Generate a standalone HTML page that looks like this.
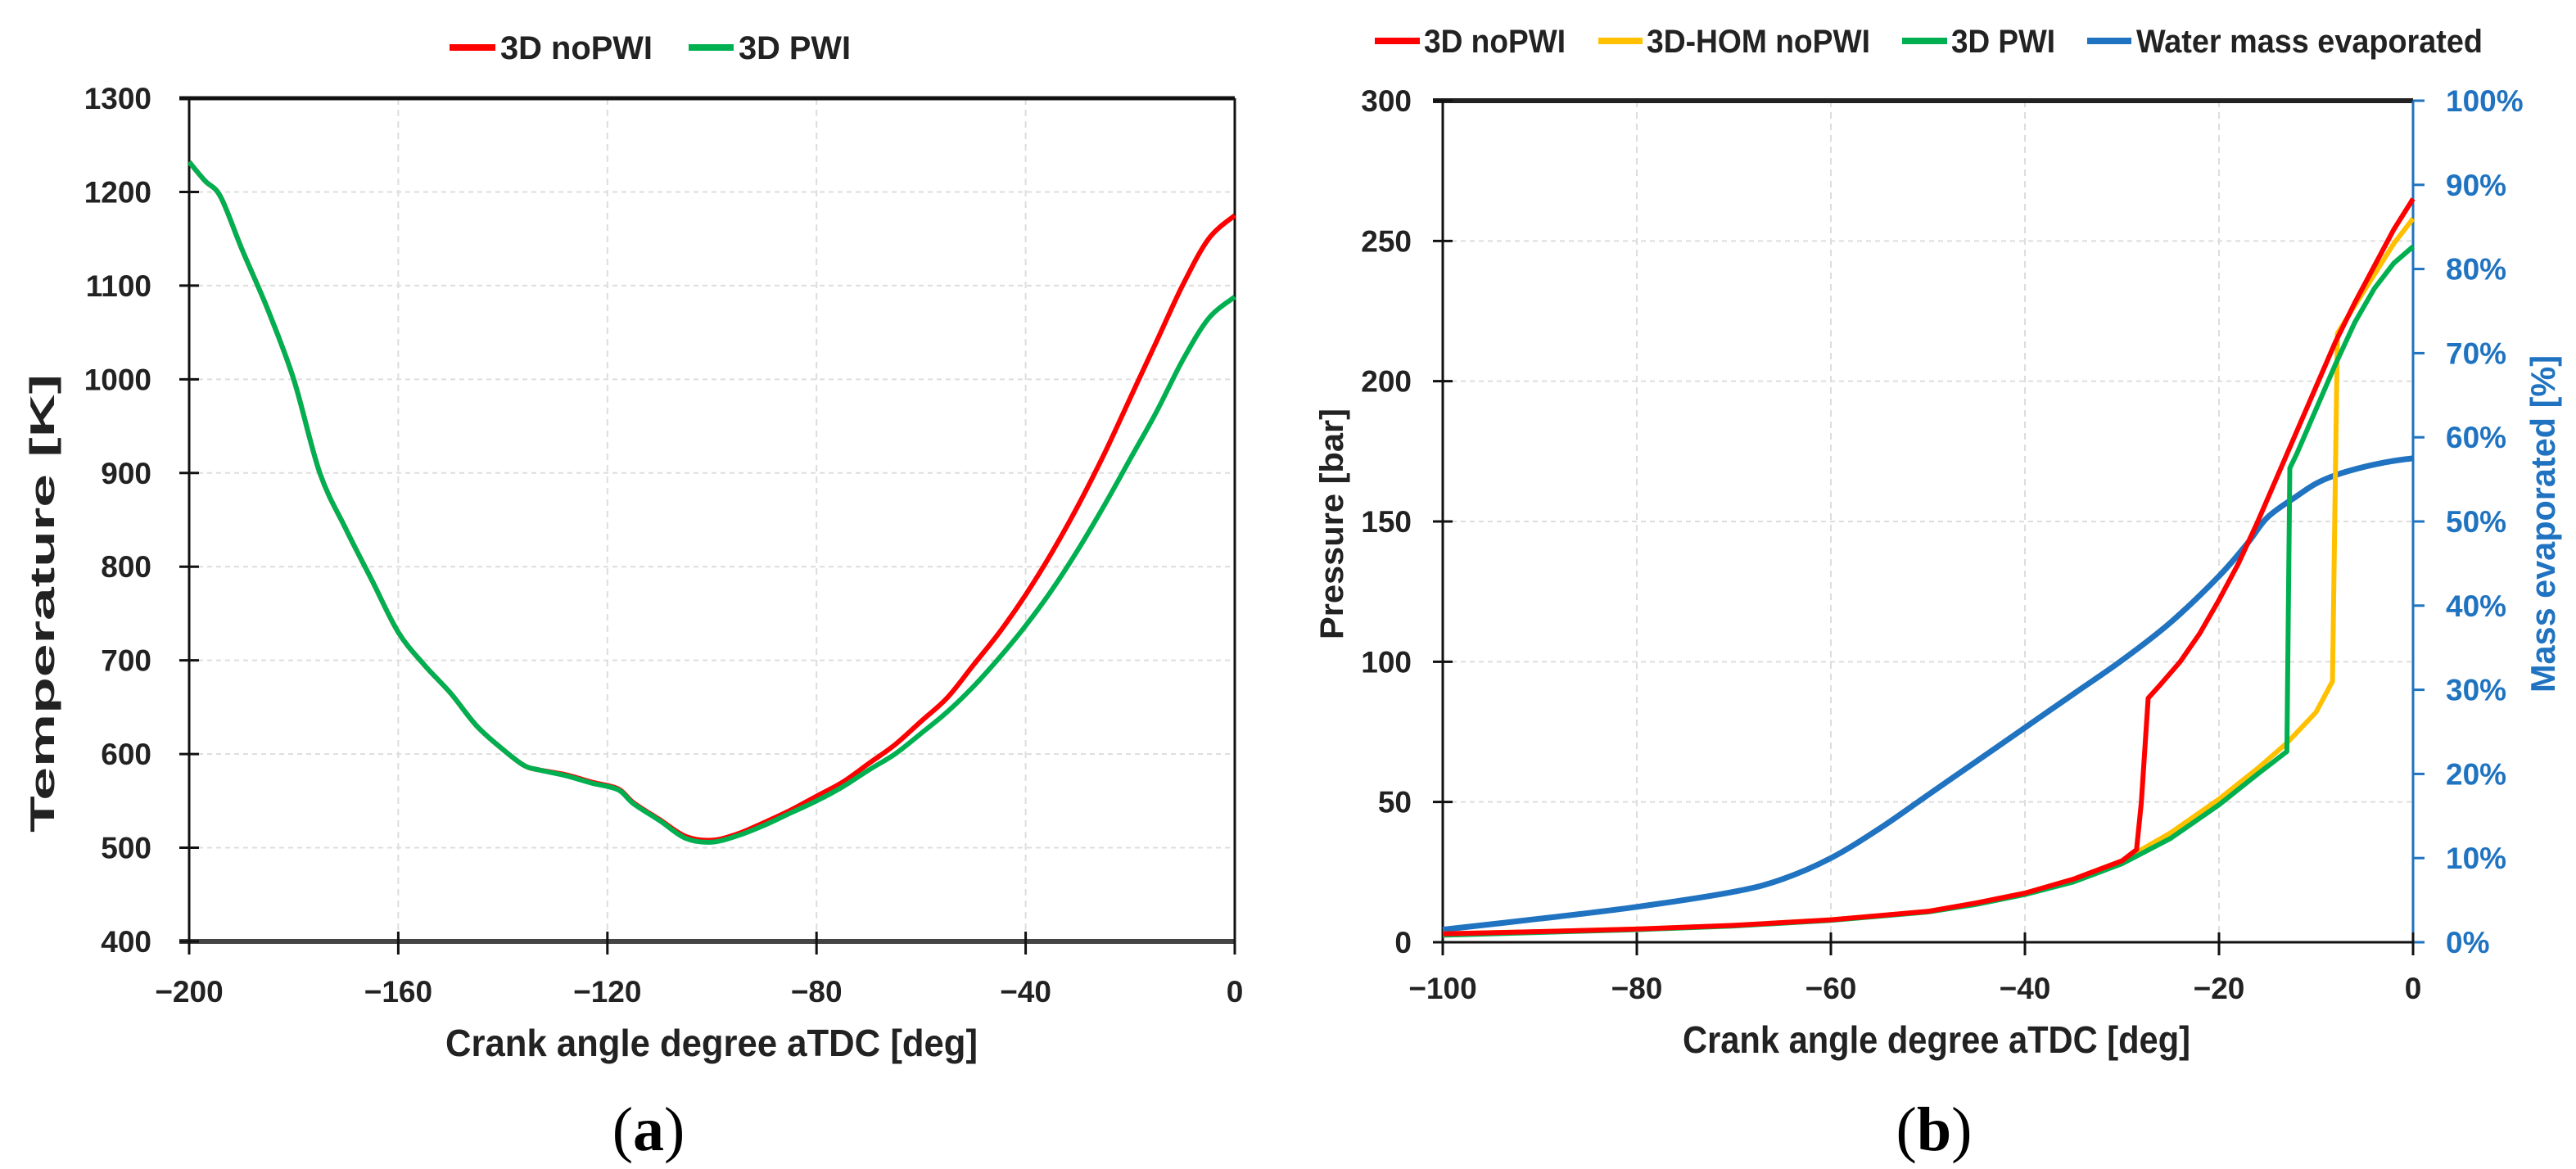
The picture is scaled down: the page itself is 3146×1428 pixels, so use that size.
<!DOCTYPE html>
<html><head><meta charset="utf-8">
<style>
html,body{margin:0;padding:0;background:#fff;}
svg{display:block;font-family:"Liberation Sans",sans-serif;}
</style></head>
<body>
<svg id="fig" width="3146" height="1428" viewBox="0 0 3146 1428"></svg>
<script>
// ---- Chart (a) data ----
const caA = [-200,-197,-194,-190,-185,-180,-175,-170,-165,-160,-155,-150,-145,-140,-136,-133,-128,-123,-118,-115,-110,-105,-100,-95,-90,-85,-80,-75,-70,-65,-60,-55,-50,-45,-40,-35,-30,-25,-20,-15,-10,-5,0];
const tNoPWI = [1232,1212,1195,1140,1075,1000,900,840,785,730,695,665,630,605,588,583,578,570,563,548,530,512,508,515,527,540,555,570,590,610,635,660,695,730,770,815,865,920,980,1040,1100,1150,1175];
const tPWI = [1232,1212,1195,1140,1075,1000,900,840,785,730,695,665,630,605,588,583,577,569,562,547,529,510,506,513,524,537,550,565,583,600,622,645,672,703,737,775,818,865,915,965,1020,1065,1088];
const xTicksA = [-200,-160,-120,-80,-40,0];
const yTicksA = [400,500,600,700,800,900,1000,1100,1200,1300];
// ---- Chart (b) data ----
const caRed = [-100,-90,-80,-70,-60,-50,-45,-40,-35,-30,-28.5,-28,-27.3,-26,-24,-22,-20,-18,-16,-14,-12,-10,-8,-6,-4,-2,0];
const pRed = [3,3.8,4.7,6,8,11,14,17.5,22.5,29,33,50,87,92,100,110,122,135,150,166,182,198,214,228,241,254,265];
const caYel = [-100,-90,-80,-70,-60,-50,-45,-40,-35,-30,-25,-20,-16,-13,-10,-8.3,-7.8,-6,-4,-2,0];
const pYel = [3,3.8,4.7,6,8,11,14,17.5,22.5,29,39,51,62,71,82,93,217,227,238,249,258];
const caGrn = [-100,-90,-80,-70,-60,-50,-45,-40,-35,-30,-25,-20,-16,-13,-12.7,-12,-10,-8,-6,-4,-2,0];
const pGrn = [2.5,3.5,4.5,5.8,7.8,10.8,13.5,17,21.5,28,37,49,60,68,169,174,190,206,221,233,242,248];
const caBlue = [-100,-90,-80,-70,-65,-60,-55,-50,-45,-40,-35,-30,-25,-20,-17,-15,-12,-10,-8,-5,-2,0];
const mBlue = [1.5,2.8,4.2,6,7.5,10,13.5,17.5,21.5,25.5,29.5,33.5,38,43.5,47.5,50.5,53,54.5,55.5,56.5,57.2,57.5];
const xTicksB = [-100,-80,-60,-40,-20,0];
const yTicksB = [0,50,100,150,200,250,300];
const yTicksB2 = [0,10,20,30,40,50,60,70,80,90,100];

const NS="http://www.w3.org/2000/svg";
const svg=document.getElementById('fig');
function mk(tag,attrs,parent){const e=document.createElementNS(NS,tag);for(const k in attrs)e.setAttribute(k,attrs[k]);(parent||svg).appendChild(e);return e;}
function txt(s,attrs,parent){const e=mk('text',attrs,parent);e.textContent=s;return e;}
function pathD(xs,ys,fx,fy){return xs.map((v,i)=>(i?'L':'M')+fx(v).toFixed(1)+','+fy(ys[i]).toFixed(1)).join(' ');}
function smoothD(xs,ys,fx,fy){
  const p=xs.map((v,i)=>[fx(v),fy(ys[i])]);
  let d='M'+p[0][0].toFixed(1)+','+p[0][1].toFixed(1);
  for(let i=0;i<p.length-1;i++){
    const p0=p[Math.max(0,i-1)],p1=p[i],p2=p[i+1],p3=p[Math.min(p.length-1,i+2)];
    const c1=[p1[0]+(p2[0]-p0[0])/6,p1[1]+(p2[1]-p0[1])/6];
    const c2=[p2[0]-(p3[0]-p1[0])/6,p2[1]-(p3[1]-p1[1])/6];
    d+=' C'+c1[0].toFixed(1)+','+c1[1].toFixed(1)+' '+c2[0].toFixed(1)+','+c2[1].toFixed(1)+' '+p2[0].toFixed(1)+','+p2[1].toFixed(1);
  }
  return d;
}

// ---------- Chart A ----------
const A={x0:231,x1:1508,y0:1150,y1:120,xmin:-200,xmax:0,ymin:400,ymax:1300};
const xA=v=>A.x0+(v-A.xmin)/(A.xmax-A.xmin)*(A.x1-A.x0);
const yA=v=>A.y0-(v-A.ymin)/(A.ymax-A.ymin)*(A.y0-A.y1);
const gA=mk('g',{});


for(const t of xTicksA){ if(t!==A.xmin && t!==A.xmax){const l=mk('line',{x1:xA(t),x2:xA(t),y1:A.y1,y2:A.y0,stroke:'#ddd','stroke-width':2,'stroke-dasharray':'8,6'},gA);}}
for(const t of yTicksA){ if(t!==A.ymin && t!==A.ymax){const l=mk('line',{x1:A.x0,x2:A.x1,y1:yA(t),y2:yA(t),stroke:'#ddd','stroke-width':2,'stroke-dasharray':'6,5'},gA);}}
mk('line',{x1:A.x0-12,x2:A.x1,y1:A.y1,y2:A.y1,stroke:'#111','stroke-width':5},gA);
mk('line',{x1:A.x1,x2:A.x1,y1:A.y1,y2:A.y0,stroke:'#111','stroke-width':3},gA);
mk('line',{x1:A.x0,x2:A.x0,y1:A.y1,y2:A.y0,stroke:'#111','stroke-width':3},gA);
mk('line',{x1:A.x0-12,x2:A.x1,y1:A.y0,y2:A.y0,stroke:'#444','stroke-width':6},gA);
let e;
for(const t of yTicksA){mk('line',{x1:A.x0-12,x2:A.x0+12,y1:yA(t),y2:yA(t),stroke:'#111','stroke-width':3},gA);
 e=txt(String(t),{x:A.x0-46,y:yA(t)+13,'text-anchor':'end','font-size':37,'font-weight':'bold',fill:'#222'},gA);}
for(const t of xTicksA){mk('line',{x1:xA(t),x2:xA(t),y1:A.y0-12,y2:A.y0+16,stroke:'#111','stroke-width':3},gA);
 e=txt(t===0?'0':'\u2212'+Math.abs(t),{x:xA(t),y:1224,'text-anchor':'middle','font-size':37,'font-weight':'bold',fill:'#222'},gA);}
const lr=mk('path',{d:smoothD(caA,tNoPWI,xA,yA),fill:'none',stroke:'#ff0000','stroke-width':6,'stroke-linejoin':'round'},gA);

const lg=mk('path',{d:smoothD(caA,tPWI,xA,yA),fill:'none',stroke:'#00b050','stroke-width':6,'stroke-linejoin':'round'},gA);

e=txt('Temperature [K]',{transform:'translate(66,737) rotate(-90)','text-anchor':'middle','font-size':42,'font-weight':'bold',fill:'#222',textLength:560,lengthAdjust:'spacingAndGlyphs'},gA);

e=txt('Crank angle degree aTDC [deg]',{x:869,y:1290,'text-anchor':'middle','font-size':46,'font-weight':'bold',fill:'#222',textLength:650,lengthAdjust:'spacingAndGlyphs'},gA);

mk('line',{x1:549,x2:605,y1:58,y2:58,stroke:'#ff0000','stroke-width':8},gA);
e=txt('3D noPWI',{x:611,y:72,'font-size':40,'font-weight':'bold',fill:'#222',textLength:186,lengthAdjust:'spacingAndGlyphs'},gA);
mk('line',{x1:841,x2:896,y1:58,y2:58,stroke:'#00b050','stroke-width':8},gA);
e=txt('3D PWI',{x:902,y:72,'font-size':40,'font-weight':'bold',fill:'#222',textLength:137,lengthAdjust:'spacingAndGlyphs'},gA);
e=mk('text',{x:792,y:1405,'text-anchor':'middle','font-size':76,'font-family':'Liberation Serif, serif',fill:'#000'});
e.innerHTML='(<tspan font-weight="bold">a</tspan>)';


// ---------- Chart B ----------
const B={x0:1762,x1:2947,y0:1151,y1:123,xmin:-100,xmax:0,ymin:0,ymax:300};
const xB=v=>B.x0+(v-B.xmin)/(B.xmax-B.xmin)*(B.x1-B.x0);
const yB=v=>B.y0-(v-B.ymin)/(B.ymax-B.ymin)*(B.y0-B.y1);
const yB2=v=>B.y0-v/100*(B.y0-B.y1);
const gB=mk('g',{});


for(const t of xTicksB){ if(t!==B.xmin && t!==B.xmax){const l=mk('line',{x1:xB(t),x2:xB(t),y1:B.y1,y2:B.y0,stroke:'#ddd','stroke-width':2,'stroke-dasharray':'8,6'},gB);}}
for(const t of yTicksB){ if(t!==B.ymin && t!==B.ymax){const l=mk('line',{x1:B.x0,x2:B.x1,y1:yB(t),y2:yB(t),stroke:'#ddd','stroke-width':2,'stroke-dasharray':'6,5'},gB);}}
mk('line',{x1:B.x0-12,x2:B.x1,y1:B.y1,y2:B.y1,stroke:'#222','stroke-width':6},gB);
mk('line',{x1:B.x0,x2:B.x0,y1:B.y1,y2:B.y0,stroke:'#111','stroke-width':3},gB);
mk('line',{x1:B.x0-12,x2:B.x1,y1:B.y0,y2:B.y0,stroke:'#111','stroke-width':3},gB);
mk('line',{x1:B.x1,x2:B.x1,y1:B.y1,y2:B.y0,stroke:'#1f73c0','stroke-width':3},gB);
for(const t of yTicksB){mk('line',{x1:B.x0-12,x2:B.x0+12,y1:yB(t),y2:yB(t),stroke:'#111','stroke-width':3},gB);
 e=txt(String(t),{x:B.x0-38,y:yB(t)+13,'text-anchor':'end','font-size':37,'font-weight':'bold',fill:'#222'},gB);}
for(const t of yTicksB2){mk('line',{x1:B.x1,x2:B.x1+14,y1:yB2(t),y2:yB2(t),stroke:'#1f73c0','stroke-width':3},gB);
 e=txt(t+'%',{x:B.x1+40,y:yB2(t)+13,'font-size':37,'font-weight':'bold',fill:'#1f73c0'},gB);}
for(const t of xTicksB){mk('line',{x1:xB(t),x2:xB(t),y1:B.y0-12,y2:B.y0+16,stroke:'#111','stroke-width':3},gB);
 e=txt(t===0?'0':'\u2212'+Math.abs(t),{x:xB(t),y:1220,'text-anchor':'middle','font-size':37,'font-weight':'bold',fill:'#222'},gB);}
const sb=mk('path',{d:smoothD(caBlue,mBlue,xB,yB2),fill:'none',stroke:'#1f73c0','stroke-width':7,'stroke-linejoin':'round'},gB);

const sy=mk('path',{d:pathD(caYel,pYel,xB,yB),fill:'none',stroke:'#ffc000','stroke-width':6,'stroke-linejoin':'round'},gB);

const sg=mk('path',{d:pathD(caGrn,pGrn,xB,yB),fill:'none',stroke:'#00b050','stroke-width':6,'stroke-linejoin':'round'},gB);

const sr=mk('path',{d:pathD(caRed,pRed,xB,yB),fill:'none',stroke:'#ff0000','stroke-width':6,'stroke-linejoin':'round'},gB);

e=txt('Pressure [bar]',{transform:'translate(1640,640) rotate(-90)','text-anchor':'middle','font-size':40,'font-weight':'bold',fill:'#222',textLength:282,lengthAdjust:'spacingAndGlyphs'},gB);

e=txt('Mass evaporated [%]',{transform:'translate(3120,640) rotate(-90)','text-anchor':'middle','font-size':42,'font-weight':'bold',fill:'#1f73c0',textLength:412,lengthAdjust:'spacingAndGlyphs'},gB);

e=txt('Crank angle degree aTDC [deg]',{x:2365,y:1286,'text-anchor':'middle','font-size':46,'font-weight':'bold',fill:'#222',textLength:620,lengthAdjust:'spacingAndGlyphs'},gB);

const legB=[[1679,1734,1739,173,'#ff0000','3D noPWI'],[1952,2006,2011,273,'#ffc000','3D-HOM noPWI'],[2323,2378,2383,127,'#00b050','3D PWI'],[2549,2603,2609,423,'#1f73c0','Water mass evaporated']];
for(const L of legB){mk('line',{x1:L[0],x2:L[1],y1:50,y2:50,stroke:L[4],'stroke-width':8},gB);
 e=txt(L[5],{x:L[2],y:64,'font-size':40,'font-weight':'bold',fill:'#222',textLength:L[3],lengthAdjust:'spacingAndGlyphs'},gB);}
e=mk('text',{x:2362,y:1405,'text-anchor':'middle','font-size':76,'font-family':'Liberation Serif, serif',fill:'#000'});
e.innerHTML='(<tspan font-weight="bold">b</tspan>)';

</script>
</body></html>
